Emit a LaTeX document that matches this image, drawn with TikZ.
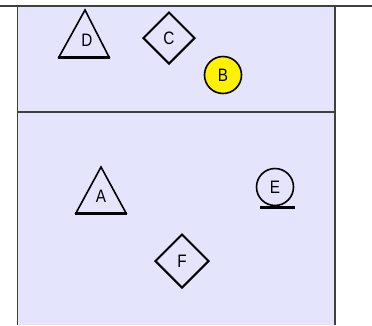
\documentclass[tikz,border=0pt]{standalone}
\usepackage{fontspec}
\setmainfont{Liberation Sans}[FakeStretch=0.85]
\usetikzlibrary{shapes.geometric}
\definecolor{lane}{RGB}{228,228,252}
\definecolor{edge}{RGB}{64,64,64}
\tikzset{
  shapeline/.style={draw=black, line width=1.6pt, line join=miter},
  baseline/.style={draw=black, line width=3pt},
  lblfont/.style={font=\fontsize{18}{18}\selectfont},
  lbl/.style={inner sep=0pt, lblfont},
  dia/.style={diamond, draw=black, line width=2pt, minimum width=52pt, minimum height=52pt, inner sep=0pt, lblfont},
  ring/.style={circle, draw=black, line width=1.6pt, minimum size=37pt, inner sep=0pt, lblfont},
}
\begin{document}
\begin{tikzpicture}[x=1pt,y=-1pt]
\useasboundingbox (0,0) rectangle (372,325);
% pool
\fill[lane] (17.5,6) rectangle (335,325);
\draw[edge, line width=1.5pt] (17.5,6) -- (17.5,325);
\draw[edge, line width=1.5pt] (335,6) -- (335,325);
\draw[edge, line width=1.5pt] (17.5,112) -- (335,112);
\draw[edge, line width=2pt] (0,6) -- (372,6);
% D
\draw[shapeline] (85,10) -- (109,57) -- (59,57) -- cycle;
\draw[baseline] (58,57) -- (110,57);
\node[lbl] (D) at (87,40) {D};
% C
\node[dia] (C) at (169,38) {C};
% B
\node[ring, fill=yellow] (B) at (223,75) {B};
% A
\draw[shapeline] (101,167) -- (126,213) -- (76,213) -- cycle;
\draw[baseline] (75,213) -- (127,213);
\node[lbl] (A) at (101,196) {A};
% E
\node[ring] (E) at (275,187) {E};
\draw[baseline] (260,207) -- (295,207);
% F
\node[dia, minimum width=54pt, minimum height=54pt] (F) at (182,261) {F};
\end{tikzpicture}
\end{document}
